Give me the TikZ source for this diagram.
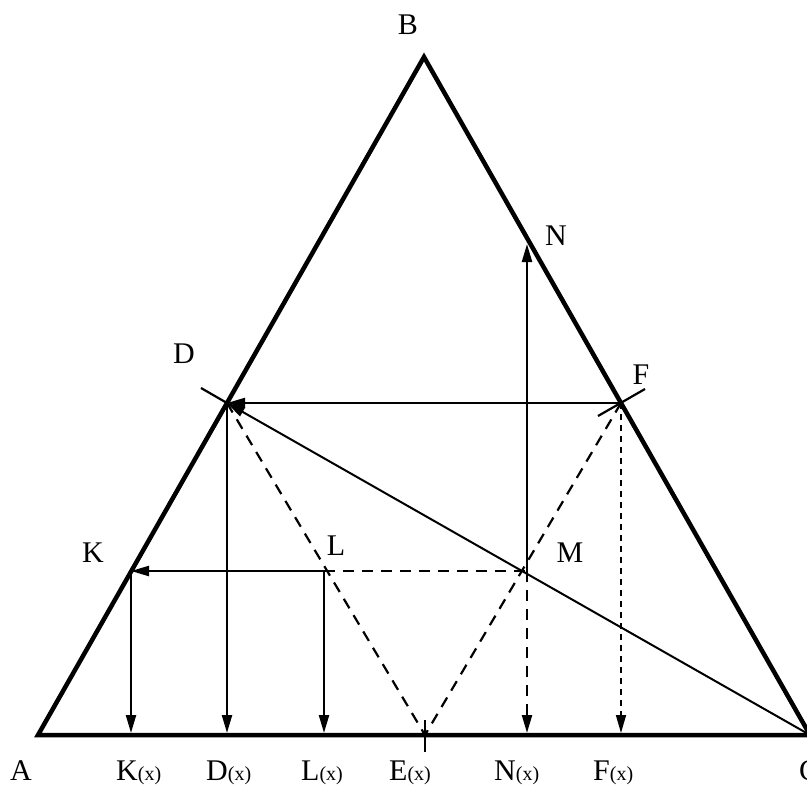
\documentclass[tikz,border=0pt]{standalone}
\usepackage{fontspec}
\setmainfont{Liberation Serif}
\usetikzlibrary{arrows.meta,calc}
\newcommand\subx{{\fontsize{20}{20}\selectfont(x)}}
\begin{document}
\begin{tikzpicture}[x=1pt,y=-1pt,
  side/.style={line width=4.5pt, line join=miter},
  solidln/.style={line width=2.2pt},
  cdln/.style={line width=2pt},
  dsh/.style={line width=2.2pt, dash pattern=on 11pt off 8pt},
  fdsh/.style={line width=1.6pt, dash pattern=on 6pt off 5pt},
  arr/.style={-{Triangle[length=18pt,width=10pt]}},
  lbl/.style={font=\fontsize{30}{30}\selectfont, inner sep=0pt},
  ]
\useasboundingbox (0,0) rectangle (807,785);
\clip (0,0) rectangle (807,785);
% vertices and points
\coordinate (A) at (38,735);
\coordinate (B) at (424,57);
\coordinate (C) at (810,735);
\coordinate (D) at (227,403);
\coordinate (F) at (621,403);
\coordinate (E) at (425,735);
\coordinate (K) at (131,571);
\coordinate (L) at (324,571);
\coordinate (M) at (527,571);
\coordinate (N) at (527,244);
\coordinate (Kx) at (131,733);
\coordinate (Dx) at (227,733);
\coordinate (Lx) at (324,733);
\coordinate (Nx) at (527,733);
\coordinate (Fx) at (621,733);
\coordinate (Dt) at (201,388);
\coordinate (Ft1) at (598,416);
\coordinate (Ft2) at (645,389);
\coordinate (Et1) at (425,720);
\coordinate (Et2) at (425,752);
% triangle
\draw[side] (A) -- (B) -- (C) -- cycle;
% dashed lines
\draw[dsh] (D) -- (E);
\draw[dsh] (F) -- (E);
\draw[dsh] (L) -- (M);
\draw[dsh,arr] (M) -- (Nx);
\draw[fdsh,arr] (F) -- (Fx);
% solid lines
\draw[cdln,arr] (C) -- (D);
\draw[solidln] (D) -- (Dt);
\draw[solidln] (Ft1) -- (Ft2);
\draw[solidln] (Et1) -- (Et2);
\draw[solidln,arr] (F) -- (D);
\draw[solidln,arr] (L) -- (K);
\draw[solidln,arr] (M) -- (N);
\draw[solidln,arr] (K) -- (Kx);
\draw[solidln,arr] (D) -- (Dx);
\draw[solidln,arr] (L) -- (Lx);
% labels
\node[lbl] (lB) at (408,25) {B};
\node[lbl] (lN) at (556,236) {N};
\node[lbl] (lD) at (184,354) {D};
\node[lbl] (lF) at (641,375) {F};
\node[lbl] (lK) at (93,553) {K};
\node[lbl] (lL) at (336,546) {L};
\node[lbl] (lM) at (570,553) {M};
\node[lbl,anchor=base west] (lA) at (10,780) {A};
\node[lbl,anchor=base west] (lKx) at (116,780) {K\subx};
\node[lbl,anchor=base west] (lDx) at (206,780) {D\subx};
\node[lbl,anchor=base west] (lLx) at (301,780) {L\subx};
\node[lbl,anchor=base west] (lEx) at (389,780) {E\subx};
\node[lbl,anchor=base west] (lNx) at (494,780) {N\subx};
\node[lbl,anchor=base west] (lFx) at (593,780) {F\subx};
\node[lbl,anchor=base west] (lC) at (799,780) {C};
\end{tikzpicture}
\end{document}
